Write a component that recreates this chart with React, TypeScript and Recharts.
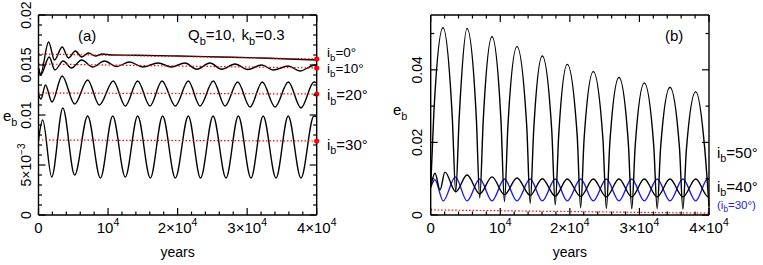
import React from "react";
import { LineChart, Line, XAxis, YAxis } from "recharts";

const FONT = "'Liberation Sans', Arial, Helvetica, sans-serif";
const BLACK = "#000000";
const RED = "#ff0000";
const BLUE = "#1c1ce8";

// time axis in units of 10^3 years
const xTicks = [0, 2, 4, 6, 8, 10, 12, 14, 16, 18, 20, 22, 24, 26, 28, 30, 32, 34, 36, 38, 40];
const xMajor = [0, 10, 20, 30, 40];
const xMajorText = [["0", ""], ["10", "4"], ["2×10", "4"], ["3×10", "4"], ["4×10", "4"]];

const aYTicks = [
  0, 0.001, 0.002, 0.003, 0.004, 0.005, 0.006, 0.007, 0.008, 0.009, 0.01,
  0.011, 0.012, 0.013, 0.014, 0.015, 0.016, 0.017, 0.018, 0.019, 0.02,
];
const aYMajor = [0, 0.005, 0.01, 0.015, 0.02];
const aYMajorText = [["0", ""], ["5×10", "−3"], ["0.01", ""], ["0.015", ""], ["0.02", ""]];

const bYTicks = [0, 0.01, 0.02, 0.03, 0.04, 0.05];
const bYMajor = [0, 0.02, 0.04];
const bYMajorText = [["0", ""], ["0.02", ""], ["0.04", ""]];

// panel (a): Q_b=10, k_b=0.3
const a0Years = [0, 0.3, 1.45, 2.3, 3.4, 4.3, 5.3, 6.2, 7.2, 8.2, 9.2, 10.5, 14, 20, 26, 32, 40];
const a0Ecc = [0.0147, 0.0141, 0.0173, 0.0155, 0.0168, 0.0157, 0.0164, 0.0158, 0.0162, 0.0159, 0.0161, 0.016, 0.01598, 0.0159, 0.0158, 0.0157, 0.0155];

const a10Years = [0, 0.3, 1.55, 2.35, 3.55, 4.75, 6.2, 7.8, 9.5, 11.2, 13.1, 15.0, 17.2, 19.1, 21.06, 22.75, 24.66, 26.34, 28.25, 30.08, 32.09, 33.76, 35.92, 37.6, 39.76, 40];
const a10Ecc = [0.0147, 0.014, 0.0158, 0.0145, 0.0154, 0.0147, 0.0155, 0.0148, 0.0154, 0.01485, 0.0153, 0.0148, 0.0152, 0.0148, 0.0152, 0.01457, 0.0152, 0.01457, 0.0151, 0.01455, 0.015, 0.0145, 0.0149, 0.0144, 0.015, 0.015];

const a20Years = [0, 0.35, 1.0, 1.94, 3.4, 5.2, 7.07, 8.74, 10.75, 12.48, 14.26, 16.03, 17.76, 19.67, 21.54, 23.22, 25.13, 26.82, 28.64, 30.41, 32.18, 34.01, 35.92, 37.74, 39.61, 40];
const a20Ecc = [0.012, 0.0116, 0.013, 0.0113, 0.0139, 0.0111, 0.0135, 0.011, 0.0134, 0.0109, 0.0134, 0.0109, 0.0134, 0.0109, 0.0134, 0.0109, 0.0134, 0.0109, 0.0133, 0.0108, 0.0133, 0.0108, 0.0133, 0.0107, 0.0133, 0.0132];

const a30Years = [0, 0.6, 1.9, 3.5, 5.2, 7.07, 8.9, 10.67, 12.48, 14.26, 16.08, 17.85, 19.67, 21.54, 23.3, 25.1, 26.96, 28.73, 30.55, 32.3, 34.15, 35.9, 37.74, 39.6, 40];
const a30Ecc = [0.0075, 0.0095, 0.0038, 0.0107, 0.004, 0.0099, 0.0037, 0.0099, 0.0038, 0.0099, 0.0037, 0.0099, 0.0037, 0.0099, 0.0037, 0.0099, 0.0037, 0.0099, 0.0037, 0.0099, 0.0037, 0.0099, 0.0037, 0.0099, 0.0098];

const aRefYears = [0, 40];
const aRef0 = [0.0161, 0.0156];
const aRef10 = [0.0151, 0.0147];
const aRef20 = [0.0122, 0.0121];
const aRef30 = [0.0075, 0.0074];

// panel (b)
const b50Years = [
  0, 0.45, 1.77, 3.1, 3.6, 4.1, 5.22, 6.55, 7.05, 7.55, 8.81, 10.1, 10.6, 11.1, 12.4, 13.8, 14.3,
  14.8, 16.04, 17.4, 17.9, 18.4, 19.63, 21.05, 21.55, 22.05, 23.37, 24.75, 25.25, 25.75, 27.06,
  28.4, 28.9, 29.4, 30.7, 32.05, 32.55, 33.05, 34.39, 35.75, 36.25, 36.75, 38.09, 39.4, 40,
];
const b50Ecc = [
  0.0078, 0.028, 0.0516, 0.027, 0.0064, 0.027, 0.0514, 0.027, 0.0047, 0.026, 0.0491, 0.026, 0.0037,
  0.0246, 0.0464, 0.0246, 0.0032, 0.0232, 0.0438, 0.0232, 0.0028, 0.022, 0.0415, 0.022, 0.002,
  0.021, 0.0395, 0.021, 0.0018, 0.02, 0.0379, 0.02, 0.0017, 0.0193, 0.0364, 0.0193, 0.0017,
  0.0187, 0.0352, 0.0187, 0.0016, 0.018, 0.034, 0.018, 0.0025,
];

const b40Years = [0, 0.62, 1.34, 2.05, 3.6, 5.22, 7.05, 8.81, 10.6, 12.4, 14.3, 16.04, 17.9, 19.63, 21.55, 23.37, 25.25, 27.06, 28.9, 30.7, 32.55, 34.39, 36.25, 38.09, 39.9, 40];
const b40Ecc = [0.0078, 0.0115, 0.0069, 0.0118, 0.0064, 0.011, 0.0058, 0.0105, 0.0056, 0.0102, 0.0054, 0.01, 0.0052, 0.0099, 0.0051, 0.0099, 0.005, 0.0099, 0.005, 0.0099, 0.005, 0.0099, 0.005, 0.0099, 0.005, 0.0051];

const b30Years = [0, 0.6, 1.8, 3.55, 5.22, 7.05, 8.81, 10.6, 12.4, 14.3, 16.04, 17.9, 19.63, 21.55, 23.37, 25.25, 27.06, 28.9, 30.7, 32.55, 34.39, 36.25, 38.09, 39.8, 40];
const b30Ecc = [0.0075, 0.0097, 0.0039, 0.0105, 0.0039, 0.0099, 0.0039, 0.0099, 0.0039, 0.0099, 0.0039, 0.0099, 0.0039, 0.0099, 0.0039, 0.0099, 0.0039, 0.0099, 0.0039, 0.0099, 0.0039, 0.0099, 0.0039, 0.0099, 0.0098];

const bRefYears = [0, 40];
const bRef = [0.0014, 0.0005];

function toPoints(years: number[], ecc: number[]) {
  return years.map((t, i) => ({ t, e: ecc[i] }));
}

type Side = "bottom" | "top" | "left" | "right";

function majorIndex(v: number, majors: number[]) {
  return majors.findIndex((m) => Math.abs(m - v) < 1e-9);
}

function makeTick(side: Side, majors: number[], labels: string[][] | null, gap = 8) {
  return function Tick(props: any) {
    const { x, y, payload } = props;
    const mi = majorIndex(payload.value, majors);
    const len = mi >= 0 ? 7 : 3.5;
    const dx = side === "left" ? len : side === "right" ? -len : 0;
    const dy = side === "bottom" ? -len : side === "top" ? len : 0;
    let label: React.ReactNode = null;
    if (labels && mi >= 0) {
      const [base, sup] = labels[mi];
      if (side === "bottom") {
        label = (
          <text x={x} y={y + 17.5} textAnchor="middle" fontSize={15} fontFamily={FONT} fill={BLACK}>
            {base}
            {sup ? (
              <tspan dy={-7} fontSize={10.5}>
                {sup}
              </tspan>
            ) : null}
          </text>
        );
      } else if (side === "left") {
        const bx = x - gap;
        label = (
          <text
            x={bx}
            y={y}
            transform={`rotate(-90 ${bx} ${y})`}
            textAnchor="middle"
            fontSize={14}
            fontFamily={FONT}
            fill={BLACK}
          >
            {base}
            {sup ? (
              <tspan dy={-6} fontSize={10}>
                {sup}
              </tspan>
            ) : null}
          </text>
        );
      }
    }
    return (
      <g>
        <line x1={x} y1={y} x2={x + dx} y2={y + dy} stroke={BLACK} strokeWidth={1.2} />
        {label}
      </g>
    );
  };
}

const endDot = (p: any) =>
  p.index === 1 ? (
    <circle key={`d${p.index}`} cx={p.cx} cy={p.cy} r={2.6} fill={RED} stroke="none" />
  ) : (
    <g key={`d${p.index}`} />
  );

const axisCommon = {
  type: "number" as const,
  tickSize: 0,
  tickMargin: 0,
  interval: 0 as const,
  axisLine: { stroke: BLACK, strokeWidth: 1.4 },
  tickLine: false,
};

// axes need a non-zero size to be drawn; margins below are reduced by 1px for that
function Frame({ yDomain, yTicks, yMajor, yText, yGap }: any) {
  return [
    <XAxis key="xb" xAxisId="b" dataKey="t" orientation="bottom" height={1} domain={[0, 40]} ticks={xTicks} tick={makeTick("bottom", xMajor, xMajorText)} {...axisCommon} />,
    <XAxis key="xt" xAxisId="top" dataKey="t" orientation="top" height={1} domain={[0, 40]} ticks={xTicks} tick={makeTick("top", xMajor, null)} {...axisCommon} />,
    <YAxis key="yl" yAxisId="l" orientation="left" width={1} domain={yDomain} ticks={yTicks} tick={makeTick("left", yMajor, yText, yGap)} {...axisCommon} />,
    <YAxis key="yr" yAxisId="right" orientation="right" width={1} domain={yDomain} ticks={yTicks} tick={makeTick("right", yMajor, null)} {...axisCommon} />,
  ];
}

function blackLine(key: string, years: number[], ecc: number[], color = BLACK) {
  return (
    <Line
      key={key}
      xAxisId="b"
      yAxisId="l"
      data={toPoints(years, ecc)}
      dataKey="e"
      type="monotone"
      stroke={color}
      strokeWidth={1.4}
      dot={false}
      isAnimationActive={false}
    />
  );
}

function refLine(key: string, years: number[], ecc: number[], withDot: boolean) {
  return (
    <Line
      key={key}
      xAxisId="top"
      yAxisId="right"
      data={toPoints(years, ecc)}
      dataKey="e"
      type="linear"
      stroke={RED}
      strokeWidth={1.2}
      strokeDasharray="1.5 2"
      dot={withDot ? endDot : false}
      isAnimationActive={false}
    />
  );
}

const txt = { fontFamily: FONT, fill: BLACK };

function Sub({ base, sub, rest, x, y, size = 15, color = BLACK }: any) {
  return (
    <text x={x} y={y} fontSize={size} fontFamily={FONT} fill={color}>
      {base}
      <tspan dy={size * 0.3} fontSize={size * 0.72}>
        {sub}
      </tspan>
      <tspan dy={-size * 0.3}>{rest}</tspan>
    </text>
  );
}

export default function App() {
  return (
    <div style={{ position: "absolute", left: 0, top: 0, width: 763, height: 265, background: "#fff" }}>
      <div style={{ position: "absolute", left: 0, top: 0 }}>
        <LineChart width={380} height={265} margin={{ top: 14, right: 62.3, bottom: 49, left: 37.5 }}>
          {Frame({ yDomain: [0, 0.02], yTicks: aYTicks, yMajor: aYMajor, yText: aYMajorText, yGap: 7.5 })}
          {blackLine("a30", a30Years, a30Ecc)}
          {blackLine("a20", a20Years, a20Ecc)}
          {blackLine("a10", a10Years, a10Ecc)}
          {blackLine("a0", a0Years, a0Ecc)}
          {refLine("r30", aRefYears, aRef30, true)}
          {refLine("r20", aRefYears, aRef20, true)}
          {refLine("r10", aRefYears, aRef10, true)}
          {refLine("r0", aRefYears, aRef0, true)}
        </LineChart>
      </div>
      <div style={{ position: "absolute", left: 380, top: 0 }}>
        <LineChart width={383} height={265} margin={{ top: 14, right: 53, bottom: 49, left: 49.7 }}>
          {Frame({ yDomain: [0, 0.0551], yTicks: bYTicks, yMajor: bYMajor, yText: bYMajorText, yGap: 9 })}
          {refLine("rb", bRefYears, bRef, false)}
          {blackLine("b30", b30Years, b30Ecc, BLUE)}
          {blackLine("b40", b40Years, b40Ecc)}
          {blackLine("b50", b50Years, b50Ecc)}
        </LineChart>
      </div>
      <svg
        width={763}
        height={265}
        style={{ position: "absolute", left: 0, top: 0, pointerEvents: "none" }}
      >
        <Sub base="e" sub="b" rest="" x={3} y={121} />
        <Sub base="e" sub="b" rest="" x={393} y={115} />
        <text x={177.6} y={257} textAnchor="middle" fontSize={14} {...txt}>years</text>
        <text x={569.9} y={257} textAnchor="middle" fontSize={14} {...txt}>years</text>
        <text x={78} y={41} fontSize={15} {...txt}>(a)</text>
        <text x={665} y={41} fontSize={15} {...txt}>(b)</text>
        <text x={188} y={40} fontSize={15} {...txt}>
          Q<tspan dy={4.5} fontSize={11}>b</tspan>
          <tspan dy={-4.5}>=10,</tspan>
          <tspan dx={6}>k</tspan>
          <tspan dy={4.5} fontSize={11}>b</tspan>
          <tspan dy={-4.5}>=0.3</tspan>
        </text>
        <Sub base="i" sub="b" rest="=0°" x={327} y={56.5} size={13.5} />
        <Sub base="i" sub="b" rest="=10°" x={327} y={73} size={13.5} />
        <Sub base="i" sub="b" rest="=20°" x={327} y={100} />
        <Sub base="i" sub="b" rest="=30°" x={327} y={149.5} />
        <Sub base="i" sub="b" rest="=50°" x={717} y={157.5} />
        <Sub base="i" sub="b" rest="=40°" x={717} y={191.5} />
        <Sub base="(i" sub="b" rest="=30°)" x={717} y={209} size={11.5} color={BLUE} />
      </svg>
    </div>
  );
}
